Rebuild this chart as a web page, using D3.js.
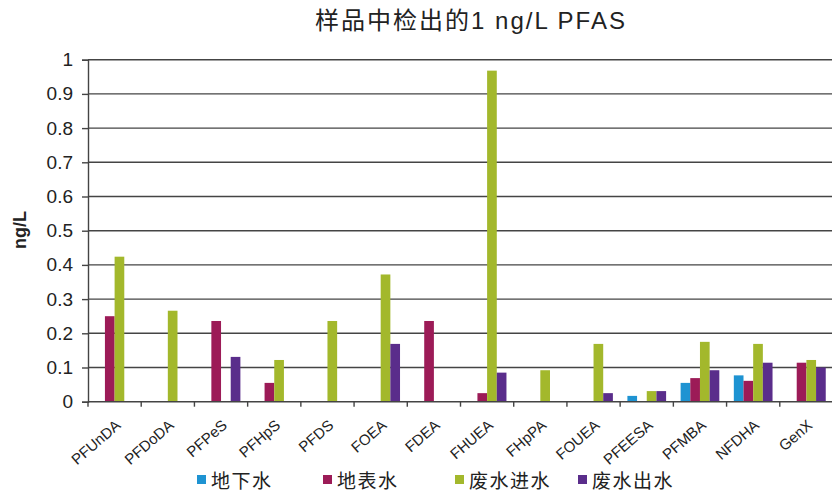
<!DOCTYPE html>
<html lang="zh">
	<head>
		<meta charset="utf-8">
		<title>样品中检出的1 ng/L PFAS</title>
		<script type="text/javascript" src="https://cdn.jsdelivr.net/npm/d3@7"></script>
		<style type="text/css">
			body { margin: 0; background: #fff; }
			text { font-family: "Liberation Sans", Arial, "Noto Sans CJK SC", sans-serif; fill: #222; }
		</style>
	</head>
	<body>
		<script type="text/javascript">

			//Chart data
			var categories = ["PFUnDA", "PFDoDA", "PFPeS", "PFHpS", "PFDS", "FOEA", "FDEA",
							  "FHUEA", "FHpPA", "FOUEA", "PFEESA", "PFMBA", "NFDHA", "GenX"];
			var seriesNames = ["地下水", "地表水", "废水进水", "废水出水"];
			var groundwater = [0, 0, 0, 0, 0, 0, 0, 0, 0, 0, 0.017, 0.055, 0.077, 0];
			var surfaceWater = [0.25, 0, 0.236, 0.055, 0, 0, 0.236, 0.025, 0, 0, 0, 0.069, 0.061, 0.114];
			var influent = [0.424, 0.266, 0, 0.122, 0.236, 0.372, 0, 0.968, 0.092, 0.169, 0.031, 0.175, 0.169, 0.122];
			var effluent = [0, 0, 0.131, 0, 0, 0.169, 0, 0.085, 0, 0.025, 0.031, 0.092, 0.114, 0.1];
			var yTicks = [0, 0.1, 0.2, 0.3, 0.4, 0.5, 0.6, 0.7, 0.8, 0.9, 1];

			var seriesValues = [groundwater, surfaceWater, influent, effluent];
			var colors = ["#1e93d2", "#9c1b57", "#a3b82c", "#5a2d8b"];

			var w = 832;
			var h = 499;
			var plotLeft = 88, plotRight = 833, plotTop = 59.7, plotBottom = 401.7;

			var svg = d3.select("body")
						.append("svg")
						.attr("width", w)
						.attr("height", h);

			//Scales
			var xScale = d3.scaleBand()
							.domain(categories)
							.range([plotLeft, plotRight])
							.padding(0);

			var xSub = d3.scaleBand()
							.domain(d3.range(seriesNames.length))
							.range([0, xScale.bandwidth()])
							.paddingInner(0)
							.paddingOuter(0.75);

			var yScale = d3.scaleLinear()
							.domain([0, 1])
							.range([plotBottom, plotTop]);

			//Gridlines
			svg.append("g")
			   .selectAll("line")
			   .data(yTicks.slice(1))
			   .enter()
			   .append("line")
			   .attr("x1", plotLeft)
			   .attr("x2", w)
			   .attr("y1", function(d) { return yScale(d); })
			   .attr("y2", function(d) { return yScale(d); })
			   .attr("stroke", "#444")
			   .attr("stroke-width", 1.4);

			//Bars
			var rows = categories.map(function(c, i) {
				return seriesValues.map(function(s, j) {
					return { cat: c, series: j, value: s[i] };
				});
			});

			svg.append("g")
			   .selectAll("g")
			   .data(rows)
			   .enter()
			   .append("g")
			   .attr("transform", function(d) {
			   		return "translate(" + xScale(d[0].cat) + ",0)";
			   })
			   .selectAll("rect")
			   .data(function(d) { return d.filter(function(e) { return e.value > 0; }); })
			   .enter()
			   .append("rect")
			   .attr("x", function(d) { return xSub(d.series); })
			   .attr("y", function(d) { return yScale(d.value); })
			   .attr("width", xSub.bandwidth())
			   .attr("height", function(d) { return plotBottom - yScale(d.value); })
			   .attr("fill", function(d) { return colors[d.series]; });

			//Y axis
			var yAxis = d3.axisLeft(yScale)
							.tickValues(yTicks)
							.tickFormat(function(d) { return String(+d.toFixed(1)); })
							.tickSize(6)
							.tickPadding(9);

			var gy = svg.append("g")
						.attr("transform", "translate(" + plotLeft + ",0)")
						.call(yAxis);
			gy.select(".domain").attr("stroke", "#444").attr("stroke-width", 1.4);
			gy.selectAll(".tick line").attr("stroke", "#444").attr("stroke-width", 1.4);
			gy.selectAll(".tick text")
			  .attr("font-size", "19px")
			  .attr("fill", "#333")
			  .style("font-family", "'Liberation Sans', Arial, sans-serif");

			//X axis (ticks at category boundaries)
			svg.append("line")
			   .attr("x1", plotLeft)
			   .attr("x2", w)
			   .attr("y1", plotBottom)
			   .attr("y2", plotBottom)
			   .attr("stroke", "#444")
			   .attr("stroke-width", 1.4);

			svg.append("g")
			   .selectAll("line")
			   .data(categories)
			   .enter()
			   .append("line")
			   .attr("x1", function(d) { return xScale(d); })
			   .attr("x2", function(d) { return xScale(d); })
			   .attr("y1", plotBottom)
			   .attr("y2", plotBottom + 5)
			   .attr("stroke", "#444")
			   .attr("stroke-width", 1.4);

			svg.append("g")
			   .selectAll("text")
			   .data(categories)
			   .enter()
			   .append("text")
			   .text(function(d) { return d; })
			   .attr("text-anchor", "end")
			   .attr("font-size", "15px")
			   .attr("fill", "#333")
			   .attr("transform", function(d) {
			   		var cx = xScale(d) + xScale.bandwidth() / 2 + 7;
			   		return "translate(" + cx + "," + (plotBottom + 25) + ") rotate(-41)";
			   });

			//Title
			svg.append("text")
			   .text("样品中检出的1 ng/L PFAS")
			   .attr("x", 471)
			   .attr("y", 29)
			   .attr("text-anchor", "middle")
			   .attr("font-size", "24px")
			   .attr("letter-spacing", "2px")
			   .attr("fill", "#1a1a1a");

			//Y axis title
			svg.append("text")
			   .text("ng/L")
			   .attr("transform", "translate(26,230) rotate(-90)")
			   .attr("text-anchor", "middle")
			   .attr("font-size", "18px")
			   .attr("font-weight", "bold")
			   .attr("fill", "#222");

			//Legend
			var legendX = [197, 323, 455, 578];
			var legend = svg.append("g")
							.selectAll("g")
							.data(seriesNames)
							.enter()
							.append("g")
							.attr("transform", function(d, i) {
								return "translate(" + legendX[i] + ",475)";
							});

			legend.append("rect")
				  .attr("width", 9)
				  .attr("height", 9)
				  .attr("fill", function(d, i) { return colors[i]; });

			legend.append("text")
				  .text(function(d) { return d; })
				  .attr("x", 14)
				  .attr("y", 13)
				  .attr("font-size", "19px")
				  .attr("letter-spacing", "1.5px")
				  .attr("fill", "#222");

		</script>
	</body>
</html>
